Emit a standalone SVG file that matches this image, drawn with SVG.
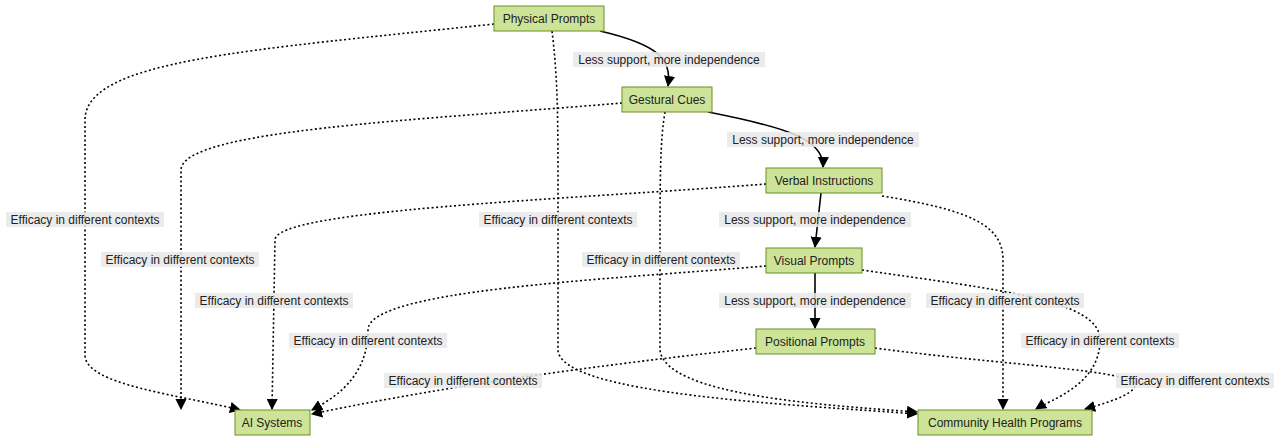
<svg xmlns="http://www.w3.org/2000/svg" width="1280" height="442" viewBox="0 0 1280 442">
<style>
.n rect{fill:#cde498;stroke:#6b8e23;stroke-width:1}
text{font-family:"Liberation Sans",Arial,sans-serif;font-size:12px;fill:#222;text-anchor:middle}
.s{fill:none;stroke:#000;stroke-width:1.6}
.d{fill:none;stroke:#000;stroke-width:1.6;stroke-dasharray:2 2.5}
.lb{fill:#e8e8e8;opacity:0.85}
</style>
<defs><marker id="a" viewBox="0 0 10 10" refX="9" refY="5" markerWidth="7" markerHeight="7" orient="auto"><path d="M0,0L10,5L0,10z" fill="#000"/></marker></defs>
<rect width="1280" height="442" fill="#fff"/>
<g id="edges">
<path class="s" d="M600,31 C660,45 672,60 668,86" marker-end="url(#a)"/>
<path class="s" d="M708,112 C790,128 824,140 823,167" marker-end="url(#a)"/>
<path class="s" d="M821,193 L815,247" marker-end="url(#a)"/>
<path class="s" d="M815,273 L815,328" marker-end="url(#a)"/>
<path class="d" d="M494,24 C250,50 85,60 85,120 L85,355 C85,385 180,395 240,410" marker-end="url(#a)"/>
<path class="d" d="M552,31 C558,80 558,120 558,200 L558,350 C560,395 800,405 917,414" marker-end="url(#a)"/>
<path class="d" d="M622,103 C420,120 181,130 181,170 L181,409" marker-end="url(#a)"/>
<path class="d" d="M665,112 C660,140 660,180 660,260 L660,350 C665,395 820,405 917,412" marker-end="url(#a)"/>
<path class="d" d="M766,184 C560,200 275,210 275,240 L272,409" marker-end="url(#a)"/>
<path class="d" d="M882,196 C970,210 1003,225 1003,260 L1003,409" marker-end="url(#a)"/>
<path class="d" d="M766,266 C600,280 368,290 368,330 C368,380 330,400 312,410" marker-end="url(#a)"/>
<path class="d" d="M862,270 C1000,290 1100,300 1100,340 C1100,385 1050,400 1036,409" marker-end="url(#a)"/>
<path class="d" d="M756,348 C600,365 450,385 312,414" marker-end="url(#a)"/>
<path class="d" d="M875,348 C1000,365 1135,370 1135,385 C1135,395 1100,405 1085,409" marker-end="url(#a)"/>
</g>
<g id="labels">
<rect class="lb" x="573" y="52" width="192" height="15"/><text x="669" y="64">Less support, more independence</text>
<rect class="lb" x="727" y="132" width="192" height="15"/><text x="823" y="144">Less support, more independence</text>
<rect class="lb" x="719" y="212" width="192" height="15"/><text x="815" y="224">Less support, more independence</text>
<rect class="lb" x="719" y="293" width="192" height="15"/><text x="815" y="305">Less support, more independence</text>
<rect class="lb" x="6" y="212" width="158" height="15"/><text x="85" y="224">Efficacy in different contexts</text>
<rect class="lb" x="479" y="212" width="158" height="15"/><text x="558" y="224">Efficacy in different contexts</text>
<rect class="lb" x="101" y="252" width="158" height="15"/><text x="180" y="264">Efficacy in different contexts</text>
<rect class="lb" x="582" y="252" width="158" height="15"/><text x="661" y="264">Efficacy in different contexts</text>
<rect class="lb" x="195" y="293" width="158" height="15"/><text x="274" y="305">Efficacy in different contexts</text>
<rect class="lb" x="926" y="293" width="158" height="15"/><text x="1005" y="305">Efficacy in different contexts</text>
<rect class="lb" x="289" y="333" width="158" height="15"/><text x="368" y="345">Efficacy in different contexts</text>
<rect class="lb" x="1021" y="333" width="158" height="15"/><text x="1100" y="345">Efficacy in different contexts</text>
<rect class="lb" x="384" y="373" width="158" height="15"/><text x="463" y="385">Efficacy in different contexts</text>
<rect class="lb" x="1116" y="373" width="158" height="15"/><text x="1195" y="385">Efficacy in different contexts</text>
</g>
<g id="physical" class="n"><rect x="494" y="6" width="110" height="25"/><text x="549" y="23">Physical Prompts</text></g>
<g id="gestural" class="n"><rect x="622" y="87" width="90" height="25"/><text x="667" y="104">Gestural Cues</text></g>
<g id="verbal" class="n"><rect x="766" y="168" width="116" height="25"/><text x="824" y="185">Verbal Instructions</text></g>
<g id="visual" class="n"><rect x="766" y="248" width="96" height="25"/><text x="814" y="265">Visual Prompts</text></g>
<g id="positional" class="n"><rect x="756" y="329" width="119" height="25"/><text x="815" y="346">Positional Prompts</text></g>
<g id="ai" class="n"><rect x="235" y="410" width="75" height="25"/><text x="272" y="427">AI Systems</text></g>
<g id="community" class="n"><rect x="918" y="410" width="174" height="25"/><text x="1005" y="427">Community Health Programs</text></g>
</svg>
